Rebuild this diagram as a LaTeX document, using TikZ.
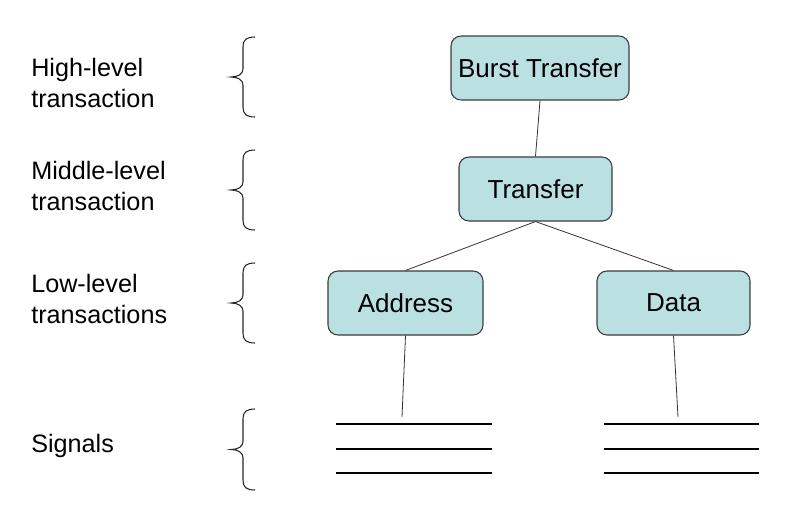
\documentclass[tikz,border=0pt]{standalone}
\usepackage{fontspec}
\setmainfont{Liberation Sans}
\definecolor{boxfill}{RGB}{187,224,226}
\definecolor{boxline}{RGB}{60,60,60}
\begin{document}
\begin{tikzpicture}[x=0.75pt,y=-0.75pt,
  tbox/.style={draw=boxline,fill=boxfill,rounded corners=7.5pt,line width=0.8pt,
    font=\fontsize{19.5}{23}\selectfont,inner sep=0pt},
  lbl/.style={anchor=west,align=left,inner sep=0pt,font=\fontsize{18.9}{23.2}\selectfont},
  conn/.style={draw=black!80,line width=0.6pt},
  sig/.style={draw=black,line width=0.9pt},
  brc/.style={draw=black!85,line width=0.8pt}]
\useasboundingbox (0,0) rectangle (792,522);
% boxes
\node[tbox,minimum width=178*0.75pt,minimum height=64*0.75pt] (burst) at (540,68) {Burst Transfer};
\node[tbox,minimum width=153*0.75pt,minimum height=64*0.75pt] (transfer) at (535.5,189) {Transfer};
\node[tbox,minimum width=155*0.75pt,minimum height=64*0.75pt] (address) at (405.5,303) {Address};
\node[tbox,minimum width=153*0.75pt,minimum height=64*0.75pt] (data) at (673.5,303) {Data};
% connectors
\draw[conn] (burst.south) -- (transfer.north);
\draw[conn] (transfer.south) -- (address.north);
\draw[conn] (transfer.south) -- (data.north);
\coordinate (aend) at (402,417);
\coordinate (dend) at (678,417);
\draw[conn] (address.south) -- (aend);
\draw[conn] (data.south) -- (dend);
% signal lines
\foreach \yy in {424,449,473}{
  \draw[sig] (336,\yy) -- (492,\yy);
  \draw[sig] (604,\yy) -- (759,\yy);
}
% labels
\node[lbl] (l1) at (31,83) {High-level\\transaction};
\node[lbl] (l2) at (31,186) {Middle-level\\transaction};
\node[lbl] (l3) at (31,299) {Low-level\\transactions};
\node[lbl] (l4) at (31,446) {Signals};
% braces
\foreach \t/\b in {37/117,150/230,263/343,409/490}{
  \pgfmathsetmacro{\m}{(\t+\b)/2}
  \draw[brc] (255,\t) .. controls (246,\t) and (243,\t+3) .. (243,\t+10)
    -- (243,\m-8) .. controls (243,\m-3) and (238,\m) .. (231,\m)
    .. controls (238,\m) and (243,\m+3) .. (243,\m+8)
    -- (243,\b-10) .. controls (243,\b-3) and (246,\b) .. (255,\b);
}
\end{tikzpicture}
\end{document}
